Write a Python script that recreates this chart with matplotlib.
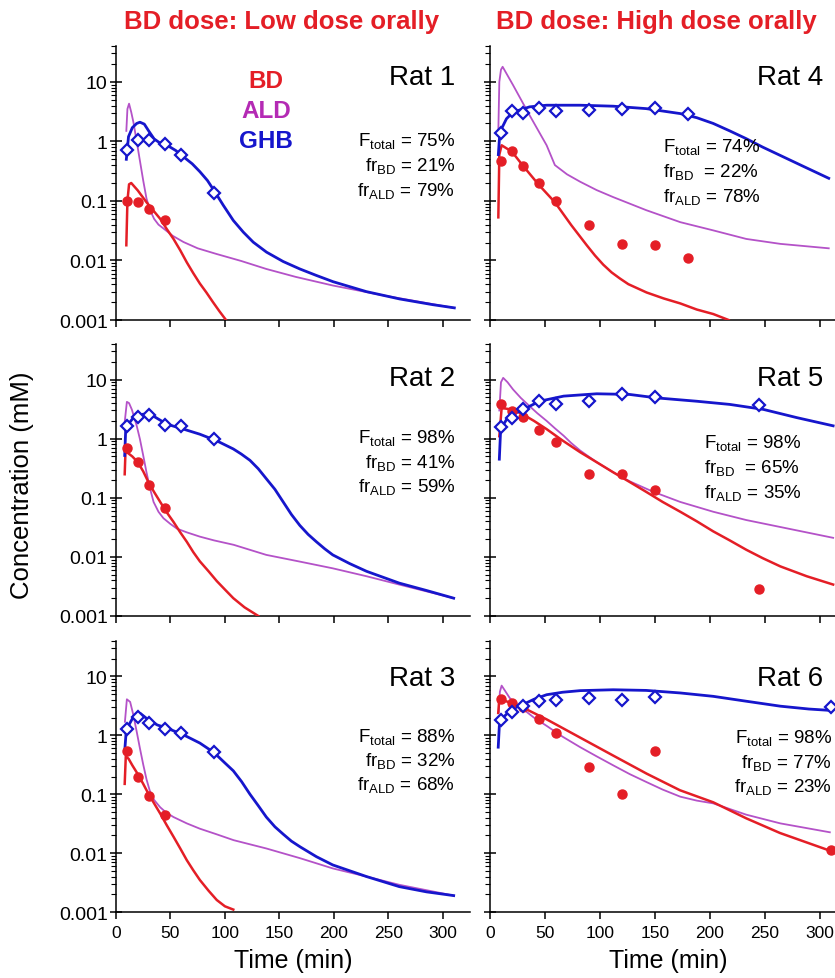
import matplotlib
matplotlib.use('Agg')
import matplotlib.pyplot as plt
from matplotlib.ticker import LogLocator, FixedLocator, NullFormatter

plt.rcParams['font.family'] = ['Liberation Sans', 'DejaVu Sans']
plt.rcParams['mathtext.fontset'] = 'custom'
plt.rcParams['mathtext.rm'] = 'Liberation Sans'
plt.rcParams['mathtext.it'] = 'Liberation Sans:italic'
plt.rcParams['mathtext.bf'] = 'Liberation Sans:bold'

# sampling times of observed data
t_low_bd = [10, 20, 30, 45]
t_low_ghb = [10, 20, 30, 45, 60, 90]
t_rat4 = [10, 20, 30, 45, 60, 90, 120, 150, 180]
t_rat5 = [10, 20, 30, 45, 60, 90, 120, 150, 245]
t_rat6 = [10, 20, 30, 45, 60, 90, 120, 150, 310]

# ---- Rat 1 (low dose) ----
rat1_bd_obs = [0.10, 0.095, 0.072, 0.048]
rat1_ghb_obs = [0.71, 1.04, 1.07, 0.92, 0.60, 0.137]
rat1_bd_fit_t = [9.5, 10.5, 12, 14, 20, 28, 34, 40.6, 46.5, 52.8, 59, 65, 71, 77, 83, 89, 95, 101]
rat1_bd_fit = [0.018, 0.10, 0.19, 0.20, 0.15, 0.095, 0.07, 0.05, 0.034, 0.023, 0.0148, 0.0093,
               0.0061, 0.0041, 0.0029, 0.002, 0.0014, 0.001]
rat1_ald_fit_t = [9.5, 10.5, 12, 14, 16, 19, 22, 25, 28, 31, 35, 39, 44, 52, 62, 75, 92, 115, 138,
                  165, 199, 245, 310]
rat1_ald_fit = [1.5, 3.5, 4.3, 3.1, 2.1, 1.0, 0.47, 0.22, 0.11, 0.072, 0.05, 0.04, 0.034, 0.026,
                0.0204, 0.016, 0.0129, 0.0098, 0.0072, 0.0053, 0.0038, 0.0026, 0.0016]
rat1_ghb_fit_t = [9.5, 11.5, 15, 19, 22, 26, 30, 35, 40, 47, 55, 62, 70, 77, 84, 90.9, 98.6, 107.7,
                  116.9, 126, 138.2, 153.5, 168.8, 184, 199.3, 229.8, 260.3, 290.8, 310.6]
rat1_ghb_fit = [0.5, 1.2, 1.7, 2.0, 2.1, 1.95, 1.5, 1.1, 0.95, 0.86, 0.7, 0.55, 0.42, 0.31, 0.22,
                0.141, 0.084, 0.047, 0.0299, 0.0203, 0.0138, 0.0096, 0.0072, 0.0056, 0.0044,
                0.0030, 0.00226, 0.00181, 0.0016]

# ---- Rat 2 (low dose) ----
rat2_bd_obs = [0.70, 0.41, 0.162, 0.068]
rat2_ghb_obs = [1.65, 2.33, 2.48, 1.71, 1.61, 1.0]
rat2_bd_fit_t = [8, 8.8, 10, 15, 20, 25, 30, 35, 40.6, 46.5, 52.8, 59, 65, 71, 77, 85, 92.5, 100,
                 107.7, 118, 130.6]
rat2_bd_fit = [0.25, 0.67, 0.59, 0.50, 0.40, 0.28, 0.18, 0.125, 0.085, 0.057, 0.039, 0.026, 0.018,
               0.012, 0.0084, 0.0057, 0.0039, 0.0028, 0.002, 0.0014, 0.001]
rat2_ald_fit_t = [8, 10, 12, 14.6, 19, 22, 25, 28, 31, 34.5, 39, 43.6, 50, 56, 65, 77, 90, 108, 138,
                  169, 199, 230, 260, 310]
rat2_ald_fit = [1.9, 4.2, 4.0, 3.1, 1.66, 0.98, 0.52, 0.27, 0.15, 0.085, 0.058, 0.045, 0.036, 0.03,
                0.026, 0.022, 0.019, 0.016, 0.0108, 0.0083, 0.0064, 0.0047, 0.0034, 0.002]
rat2_ghb_fit_t = [8, 9, 16, 25, 34.5, 46.7, 62, 77, 92.5, 107.7, 115, 123, 130.6, 138, 145.9, 153.5,
                  161.1, 168.8, 176.4, 184, 191.6, 199, 214.5, 230, 260, 285, 310]
rat2_ghb_fit = [0.52, 1.55, 2.27, 2.6, 2.4, 1.76, 1.45, 1.19, 0.92, 0.67, 0.55, 0.43, 0.31, 0.21,
                0.139, 0.085, 0.052, 0.034, 0.024, 0.018, 0.0137, 0.0108, 0.0077, 0.0057, 0.0036,
                0.0027, 0.002]

# ---- Rat 3 (low dose) ----
rat3_bd_obs = [0.55, 0.20, 0.092, 0.045]
rat3_ghb_obs = [1.29, 2.07, 1.6, 1.29, 1.08, 0.52]
rat3_bd_fit_t = [8, 9, 11.6, 15, 20, 25, 30, 35, 40.6, 46.5, 52.8, 59, 65, 71, 77, 85, 92.5, 100,
                 107.7]
rat3_bd_fit = [0.15, 0.44, 0.40, 0.31, 0.22, 0.15, 0.10, 0.07, 0.047, 0.03, 0.019, 0.012, 0.0076,
               0.0051, 0.0035, 0.0023, 0.0016, 0.00125, 0.0011]
rat3_ald_fit_t = [8.2, 10, 13, 16, 19, 22, 25, 28, 31, 35, 40.6, 46, 52.8, 65, 77, 92, 108, 138, 169,
                  199, 230, 260, 310]
rat3_ald_fit = [1.7, 4.1, 3.7, 2.2, 1.16, 0.6, 0.32, 0.18, 0.115, 0.08, 0.06, 0.049, 0.041, 0.032,
                0.026, 0.021, 0.0166, 0.012, 0.0082, 0.0055, 0.004, 0.0029, 0.0019]
rat3_ghb_fit_t = [8, 9.5, 16, 22.3, 30, 38, 46.7, 62, 77, 90, 100, 107.7, 115.3, 123, 130.6, 138,
                  145.9, 153.5, 161, 169, 184, 199, 230, 260, 285, 310]
rat3_ghb_fit = [0.54, 1.25, 2.07, 2.36, 1.82, 1.5, 1.33, 1.02, 0.74, 0.51, 0.34, 0.25, 0.164, 0.1,
                0.064, 0.041, 0.028, 0.021, 0.016, 0.0128, 0.0087, 0.0063, 0.004, 0.0027, 0.0022,
                0.0019]

# ---- Rat 4 (high dose) ----
rat4_bd_obs = [0.46, 0.69, 0.385, 0.2, 0.1, 0.039, 0.019, 0.018, 0.011]
rat4_ghb_obs = [1.39, 3.3, 3.05, 3.7, 3.2, 3.4, 3.47, 3.65, 2.86]
rat4_bd_fit_t = [7.6, 8.5, 10.6, 20, 30, 44, 59, 74, 88, 95.5, 103, 110.6, 118, 125.8, 142.4, 158,
                 173, 188, 203, 217]
rat4_bd_fit = [0.053, 0.6, 0.86, 0.67, 0.39, 0.19, 0.095, 0.039, 0.018, 0.0121, 0.0085, 0.0063,
               0.005, 0.004, 0.0029, 0.0023, 0.0019, 0.0015, 0.00126, 0.001]
rat4_ald_fit_t = [7.6, 8.5, 10, 11.5, 21, 36, 51.5, 59, 70, 82, 97, 112, 142, 173, 203, 233, 264, 308]
rat4_ald_fit = [1.5, 10, 16, 17.9, 8.8, 2.75, 0.86, 0.4, 0.28, 0.21, 0.152, 0.116, 0.07, 0.044,
                0.032, 0.023, 0.019, 0.016]
rat4_ghb_fit_t = [7.6, 9, 15, 21, 36, 51.5, 82, 112, 142, 173, 188, 203, 218, 233, 248, 264, 285, 308]
rat4_ghb_fit = [0.6, 1.43, 2.4, 3.1, 3.8, 4.05, 4.05, 3.9, 3.55, 2.93, 2.5, 2.0, 1.5, 1.11, 0.8,
                0.58, 0.38, 0.24]

# ---- Rat 5 (high dose) ----
rat5_bd_obs = [3.8, 2.9, 2.36, 1.41, 0.87, 0.25, 0.25, 0.134, 0.0029]
rat5_ghb_obs = [1.55, 2.27, 3.2, 4.3, 3.8, 4.3, 5.6, 5.0, 3.7]
rat5_bd_fit_t = [8.5, 10.6, 21, 30, 40, 51.5, 66, 82, 97, 112, 127, 142, 157, 173, 188, 203, 218,
                 233, 248, 264, 288, 312]
rat5_bd_fit = [1.1, 3.3, 3.1, 2.57, 2.0, 1.45, 0.93, 0.59, 0.4, 0.27, 0.185, 0.126, 0.085, 0.058,
               0.04, 0.027, 0.019, 0.0132, 0.0095, 0.0069, 0.0047, 0.0034]
rat5_ald_fit_t = [8.5, 10, 12, 16, 21, 28, 36, 43, 51.5, 59, 67, 74, 82, 97, 112, 127, 148.5, 173,
                  203, 233, 264, 312]
rat5_ald_fit = [3.0, 9.0, 10.7, 9.0, 6.8, 4.9, 3.55, 2.7, 2.0, 1.5, 1.12, 0.84, 0.63, 0.4, 0.27,
                0.19, 0.126, 0.085, 0.058, 0.042, 0.032, 0.021]
rat5_ghb_fit_t = [8.5, 9.7, 15, 21, 30, 45, 67, 97, 127, 151.5, 188, 218, 248.5, 279, 312]
rat5_ghb_fit = [0.45, 1.45, 2.1, 2.6, 3.1, 4.3, 5.25, 5.75, 5.6, 4.9, 4.3, 3.8, 3.13, 2.27, 1.65]

# ---- Rat 6 (high dose) ----
rat6_bd_obs = [4.2, 3.6, 3.0, 1.92, 1.08, 0.29, 0.1, 0.55, 0.0111]
rat6_ghb_obs = [1.8, 2.5, 3.2, 3.8, 4.05, 4.3, 3.95, 4.4, 3.0]
rat6_bd_fit_t = [7.5, 8.5, 18, 30.3, 51.5, 81.8, 112, 142.4, 172.7, 203, 233, 263.6, 308.5]
rat6_bd_fit = [2.4, 4.2, 3.6, 2.94, 1.87, 0.92, 0.454, 0.224, 0.117, 0.073, 0.039, 0.022, 0.0111]
rat6_ald_fit_t = [8, 9, 10.6, 14, 18, 24, 30, 40, 51.5, 66, 82, 97, 112, 127, 142, 157, 173, 188,
                  203, 233, 264, 309]
rat6_ald_fit = [2.5, 5.5, 7.0, 5.6, 4.3, 3.4, 2.8, 2.0, 1.45, 0.95, 0.63, 0.44, 0.31, 0.22, 0.162,
                0.12, 0.091, 0.078, 0.07, 0.045, 0.032, 0.0226]
rat6_ghb_fit_t = [7.5, 8.5, 13, 18, 24, 30, 40, 51.5, 66, 82, 112, 142, 173, 203, 233, 264, 290, 310]
rat6_ghb_fit = [0.63, 1.45, 2.1, 2.6, 3.0, 3.35, 4.1, 4.9, 5.4, 5.75, 5.95, 5.8, 5.25, 4.6, 3.8,
                3.13, 2.8, 2.65]

rat_names = ['Rat 1', 'Rat 2', 'Rat 3', 'Rat 4', 'Rat 5', 'Rat 6']
f_total = ['75%', '98%', '88%', '74%', '98%', '98%']
fr_bd = ['21%', '41%', '32%', '22%', '65%', '77%']
fr_ald = ['79%', '59%', '68%', '78%', '35%', '23%']

RED = '#e41e26'
PURPLE = '#b452c8'
MAGENTA = '#b42ab4'
BLUE = '#1616cc'

fig = plt.figure(figsize=(8.35, 9.79), dpi=100)

col_x = [0.1389, 0.5868]
col_w = [0.4240, 0.4281]
row_b = [0.6721, 0.3698, 0.0674]
row_h = [0.2799, 0.2778, 0.2768]

panels = [
    (t_low_bd, rat1_bd_obs, t_low_ghb, rat1_ghb_obs, rat1_bd_fit_t, rat1_bd_fit,
     rat1_ald_fit_t, rat1_ald_fit, rat1_ghb_fit_t, rat1_ghb_fit),
    (t_low_bd, rat2_bd_obs, t_low_ghb, rat2_ghb_obs, rat2_bd_fit_t, rat2_bd_fit,
     rat2_ald_fit_t, rat2_ald_fit, rat2_ghb_fit_t, rat2_ghb_fit),
    (t_low_bd, rat3_bd_obs, t_low_ghb, rat3_ghb_obs, rat3_bd_fit_t, rat3_bd_fit,
     rat3_ald_fit_t, rat3_ald_fit, rat3_ghb_fit_t, rat3_ghb_fit),
    (t_rat4, rat4_bd_obs, t_rat4, rat4_ghb_obs, rat4_bd_fit_t, rat4_bd_fit,
     rat4_ald_fit_t, rat4_ald_fit, rat4_ghb_fit_t, rat4_ghb_fit),
    (t_rat5, rat5_bd_obs, t_rat5, rat5_ghb_obs, rat5_bd_fit_t, rat5_bd_fit,
     rat5_ald_fit_t, rat5_ald_fit, rat5_ghb_fit_t, rat5_ghb_fit),
    (t_rat6, rat6_bd_obs, t_rat6, rat6_ghb_obs, rat6_bd_fit_t, rat6_bd_fit,
     rat6_ald_fit_t, rat6_ald_fit, rat6_ghb_fit_t, rat6_ghb_fit),
]

# text placement (axes fractions): rat label, annotation x / alignment, annotation rows
rat_label_y = [0.861, 0.849, 0.838]
rat_label_x = [0.958, 0.932]
note_pos = [
    (0.958, 'right', [0.637, 0.548, 0.458]),
    (0.958, 'right', [0.640, 0.548, 0.460]),
    (0.958, 'right', [0.631, 0.542, 0.454]),
    (0.484, 'left', [0.617, 0.526, 0.434]),
    (0.599, 'left', [0.621, 0.529, 0.438]),
    (0.957, 'right', [0.627, 0.535, 0.446]),
]

for i, p in enumerate(panels):
    col, row = divmod(i, 3)
    ax = fig.add_axes([col_x[col], row_b[row], col_w[col], row_h[row]])
    (bt, bo, gt, go, bft, bf, aft, af, gft, gf) = p

    ax.plot(aft, af, color=PURPLE, lw=1.3, zorder=2, solid_joinstyle='round')
    ax.plot(bft, bf, color=RED, lw=1.8, zorder=3, solid_joinstyle='round')
    ax.plot(gft, gf, color=BLUE, lw=2.0, zorder=3, solid_joinstyle='round')
    ax.plot(bt, bo, 'o', color=RED, ms=6.5, mec=RED, zorder=4)
    ax.plot(gt, go, 'D', mfc='white', mec=BLUE, mew=1.6, ms=6.5, zorder=4)

    ax.set_yscale('log')
    ax.set_ylim(0.001, 40)
    ax.set_xlim(0, 325)
    ax.spines['top'].set_visible(False)
    ax.spines['right'].set_visible(False)
    ax.spines['left'].set_linewidth(1.1)
    ax.spines['bottom'].set_linewidth(1.1)

    ax.yaxis.set_major_locator(FixedLocator([0.001, 0.01, 0.1, 1, 10]))
    ax.yaxis.set_minor_locator(LogLocator(base=10, subs=range(2, 10), numticks=20))
    ax.yaxis.set_minor_formatter(NullFormatter())
    ax.xaxis.set_major_locator(FixedLocator([0, 50, 100, 150, 200, 250, 300]))
    ax.tick_params(axis='y', which='major', direction='inout', length=8, width=1.1, pad=2)
    ax.tick_params(axis='y', which='minor', direction='out', length=3.5, width=0.8)
    ax.tick_params(axis='x', which='major', direction='out', length=5, width=1.1, pad=4)

    if col == 0:
        ax.set_yticklabels(['0.001', '0.01', '0.1', '1', '10'], fontsize=14)
    else:
        ax.set_yticklabels([])
    if row == 2:
        ax.set_xticklabels(['0', '50', '100', '150', '200', '250', '300'], fontsize=12.5)
        ax.set_xlabel('Time (min)', fontsize=18, labelpad=6)
    else:
        ax.set_xticklabels([])

    ax.text(rat_label_x[col], rat_label_y[row], rat_names[i], transform=ax.transAxes,
            ha='right', va='baseline', fontsize=20)

    nx, nha, ny = note_pos[i]
    gap = '  ' if nha == 'left' else ' '
    lines = [r'F$_{\mathrm{total}}$ = ' + f_total[i],
             r'fr$_{\mathrm{BD}}$' + gap + '= ' + fr_bd[i],
             r'fr$_{\mathrm{ALD}}$ = ' + fr_ald[i]]
    for txt, yy in zip(lines, ny):
        ax.text(nx, yy, txt, transform=ax.transAxes, ha=nha, va='baseline', fontsize=13.5)

    if i == 0:
        for lab, c, yy in zip(['BD', 'ALD', 'GHB'], [RED, MAGENTA, BLUE], [0.850, 0.741, 0.631]):
            ax.text(0.424, yy, lab, transform=ax.transAxes, ha='center', va='baseline',
                    fontsize=17.5, fontweight='bold', color=c)

fig.text(282 / 835, 1 - 29 / 979, 'BD dose: Low dose orally', ha='center', va='baseline',
         fontsize=18.5, fontweight='bold', color=RED)
fig.text(656 / 835, 1 - 29 / 979, 'BD dose: High dose orally', ha='center', va='baseline',
         fontsize=18.5, fontweight='bold', color=RED)
fig.text(22 / 835, 0.504, 'Concentration (mM)', rotation=90, ha='center', va='center', fontsize=18.5)

fig.savefig('out.png', dpi=100)
